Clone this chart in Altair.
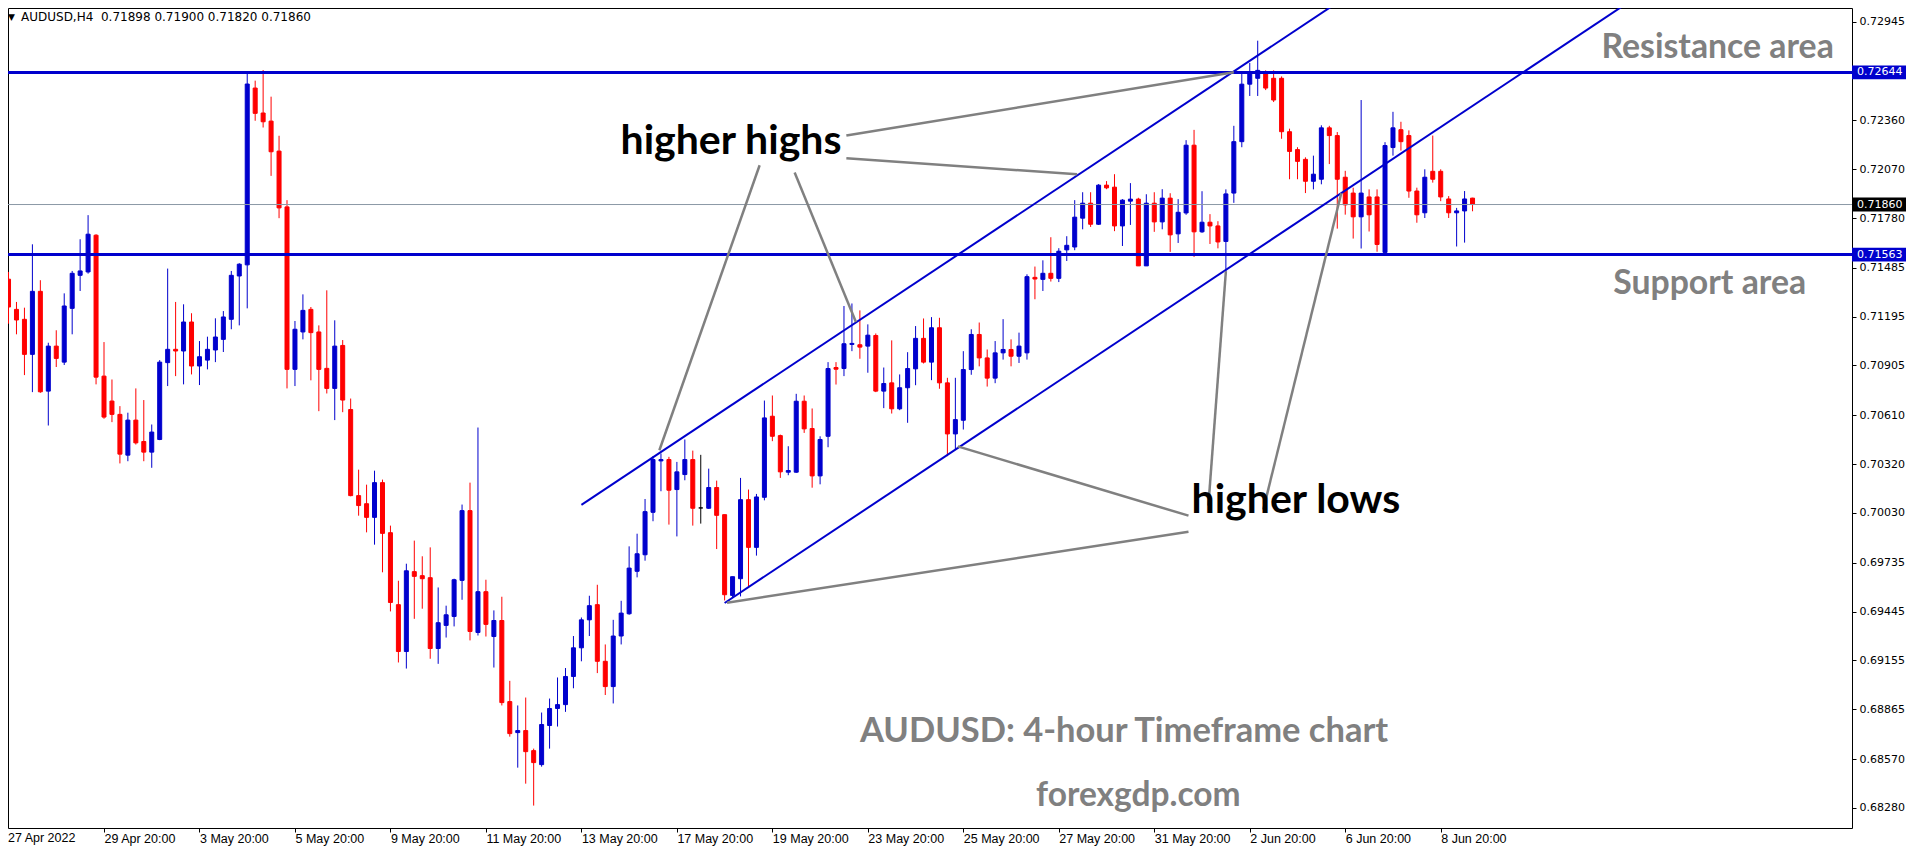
import altair as alt
import pandas as pd

# ---------------- data (AUDUSD H4 candles) ----------------
opens = [0.71417, 0.71238, 0.71179, 0.70971, 0.71345, 0.70753, 0.71020, 0.70925, 0.71244, 0.71440,
         0.71460, 0.71678, 0.70842, 0.70694, 0.70615, 0.70373, 0.70581, 0.70454, 0.70391, 0.70466,
         0.70922, 0.71001, 0.70991, 0.71163, 0.70902, 0.70937, 0.70997, 0.71060, 0.71179, 0.71436,
         0.71502, 0.72551, 0.72403, 0.72355, 0.72177, 0.71846, 0.70882, 0.71104, 0.71238, 0.71104,
         0.70888, 0.70769, 0.71024, 0.70644, 0.70133, 0.70085, 0.70004, 0.70210, 0.69913, 0.69486,
         0.69208, 0.69682, 0.69658, 0.69646, 0.69226, 0.69363, 0.69416, 0.69630, 0.70044, 0.69321,
         0.69563, 0.69297, 0.69392, 0.68911, 0.68727, 0.68739, 0.68620, 0.68537, 0.68769, 0.68870,
         0.68893, 0.69060, 0.69230, 0.69396, 0.69486, 0.69150, 0.69000, 0.69300, 0.69432, 0.69684,
         0.69782, 0.70034, 0.70339, 0.70347, 0.70169, 0.70258, 0.70347, 0.70060, 0.70058, 0.70181,
         0.70020, 0.69541, 0.69640, 0.70109, 0.69826, 0.70123, 0.70604, 0.70489, 0.70272, 0.70272,
         0.70693, 0.70531, 0.70250, 0.70485, 0.70893, 0.70887, 0.71030, 0.71028, 0.71020, 0.71083,
         0.70753, 0.70802, 0.70648, 0.70773, 0.70885, 0.71066, 0.70925, 0.71129, 0.70802, 0.70499,
         0.70580, 0.70881, 0.71089, 0.70950, 0.70830, 0.70980, 0.71000, 0.70960, 0.70980, 0.71428,
         0.71416, 0.71452, 0.71422, 0.71591, 0.71608, 0.71779, 0.71868, 0.71743, 0.71975, 0.71963,
         0.71733, 0.71880, 0.71892, 0.71496, 0.71868, 0.71757, 0.71898, 0.71686, 0.71810, 0.72212,
         0.71698, 0.71755, 0.71733, 0.71641, 0.71928, 0.72233, 0.72574, 0.72609, 0.72644, 0.72609,
         0.72609, 0.72292, 0.72186, 0.72128, 0.71998, 0.72010, 0.72315, 0.72269, 0.72022, 0.71928,
         0.71787, 0.71905, 0.71905, 0.71576, 0.72198, 0.72304, 0.72269, 0.71940, 0.71811, 0.72057,
         0.72057, 0.71893, 0.71811, 0.71822, 0.71898]

highs = [0.71460, 0.71282, 0.71248, 0.71624, 0.71411, 0.71040, 0.71114, 0.71333, 0.71466, 0.71654,
         0.71797, 0.71684, 0.71044, 0.70822, 0.70664, 0.70625, 0.70769, 0.70700, 0.70555, 0.70937,
         0.71480, 0.71282, 0.71268, 0.71215, 0.71050, 0.71076, 0.71185, 0.71228, 0.71466, 0.71512,
         0.72640, 0.72595, 0.72658, 0.72500, 0.72268, 0.71886, 0.71169, 0.71327, 0.71252, 0.71143,
         0.71351, 0.71173, 0.71056, 0.70709, 0.70287, 0.70198, 0.70281, 0.70228, 0.69955, 0.69628,
         0.69729, 0.69866, 0.69773, 0.69826, 0.69588, 0.69480, 0.69640, 0.70080, 0.70210, 0.70537,
         0.69634, 0.69452, 0.69533, 0.69034, 0.68888, 0.68935, 0.68632, 0.68846, 0.68929, 0.69054,
         0.69110, 0.69300, 0.69410, 0.69539, 0.69604, 0.69250, 0.69396, 0.69509, 0.69832, 0.69907,
         0.70113, 0.70367, 0.70383, 0.70363, 0.70333, 0.70466, 0.70400, 0.70375, 0.70293, 0.70222,
         0.70020, 0.69652, 0.70238, 0.70169, 0.70143, 0.70697, 0.70727, 0.70495, 0.70426, 0.70737,
         0.70727, 0.70650, 0.70485, 0.70925, 0.70925, 0.71258, 0.71273, 0.71232, 0.71149, 0.71095,
         0.70893, 0.71054, 0.70852, 0.70984, 0.71139, 0.71184, 0.71192, 0.71188, 0.70832, 0.70832,
         0.70990, 0.71120, 0.71160, 0.71000, 0.71050, 0.71180, 0.71060, 0.71100, 0.71446, 0.71492,
         0.71529, 0.71666, 0.71601, 0.71672, 0.71886, 0.71933, 0.71933, 0.71981, 0.71999, 0.72040,
         0.71892, 0.71987, 0.71900, 0.71921, 0.71933, 0.71951, 0.71927, 0.71892, 0.72242, 0.72303,
         0.71939, 0.71803, 0.71761, 0.71950, 0.72327, 0.72644, 0.72700, 0.72832, 0.72656, 0.72656,
         0.72620, 0.72310, 0.72200, 0.72140, 0.72150, 0.72330, 0.72327, 0.72290, 0.72060, 0.71960,
         0.72480, 0.71950, 0.71950, 0.72230, 0.72410, 0.72351, 0.72300, 0.71960, 0.72069, 0.72269,
         0.72069, 0.71910, 0.71840, 0.71940, 0.71900]

lows = [0.71153, 0.71090, 0.70848, 0.70747, 0.70743, 0.70549, 0.70896, 0.70908, 0.71090, 0.71347,
        0.71450, 0.70793, 0.70589, 0.70569, 0.70324, 0.70337, 0.70436, 0.70337, 0.70298, 0.70462,
        0.70783, 0.70842, 0.70793, 0.70852, 0.70789, 0.70882, 0.70925, 0.70985, 0.71120, 0.71143,
        0.71244, 0.72357, 0.72317, 0.72030, 0.71779, 0.70769, 0.70783, 0.71060, 0.70817, 0.70634,
        0.70739, 0.70581, 0.70628, 0.70129, 0.70014, 0.69915, 0.69842, 0.69678, 0.69446, 0.69143,
        0.69107, 0.69402, 0.69462, 0.69165, 0.69135, 0.69291, 0.69357, 0.69515, 0.69274, 0.69303,
        0.69297, 0.69113, 0.68888, 0.68703, 0.68519, 0.68424, 0.68294, 0.68525, 0.68632, 0.68763,
        0.68850, 0.68990, 0.69150, 0.69300, 0.69080, 0.68950, 0.68900, 0.69250, 0.69426, 0.69648,
        0.69747, 0.69981, 0.70159, 0.69961, 0.69891, 0.70224, 0.69955, 0.69967, 0.70054, 0.69816,
        0.69511, 0.69531, 0.69535, 0.69594, 0.69777, 0.70105, 0.70456, 0.70238, 0.70254, 0.70268,
        0.70505, 0.70180, 0.70200, 0.70420, 0.70792, 0.70842, 0.70990, 0.70945, 0.70862, 0.70747,
        0.70652, 0.70620, 0.70640, 0.70565, 0.70788, 0.70917, 0.70818, 0.70767, 0.70367, 0.70406,
        0.70525, 0.70850, 0.70900, 0.70780, 0.70800, 0.70940, 0.70900, 0.70920, 0.70940, 0.71298,
        0.71347, 0.71403, 0.71400, 0.71525, 0.71589, 0.71713, 0.71727, 0.71739, 0.71951, 0.71702,
        0.71614, 0.71739, 0.71496, 0.71496, 0.71698, 0.71713, 0.71579, 0.71632, 0.71799, 0.71549,
        0.71692, 0.71626, 0.71600, 0.71450, 0.71870, 0.72200, 0.72504, 0.72504, 0.72539, 0.72468,
        0.72250, 0.72010, 0.72010, 0.71928, 0.71950, 0.71980, 0.72100, 0.71717, 0.71800, 0.71658,
        0.71599, 0.71700, 0.71580, 0.71560, 0.72150, 0.72180, 0.71900, 0.71752, 0.71780, 0.71990,
        0.71880, 0.71780, 0.71611, 0.71634, 0.71820]

closes = [0.71252, 0.71175, 0.70971, 0.71345, 0.70749, 0.71020, 0.70947, 0.71258, 0.71452, 0.71466,
          0.71684, 0.70836, 0.70599, 0.70615, 0.70379, 0.70581, 0.70446, 0.70391, 0.70510, 0.70925,
          0.71001, 0.70991, 0.71163, 0.70902, 0.70957, 0.71001, 0.71074, 0.71193, 0.71440, 0.71506,
          0.72575, 0.72401, 0.72351, 0.72173, 0.71840, 0.70882, 0.71120, 0.71232, 0.71100, 0.70882,
          0.70769, 0.71020, 0.70700, 0.70133, 0.70074, 0.70004, 0.70210, 0.69909, 0.69499, 0.69208,
          0.69687, 0.69654, 0.69640, 0.69226, 0.69379, 0.69426, 0.69634, 0.70044, 0.69327, 0.69563,
          0.69369, 0.69392, 0.68905, 0.68721, 0.68739, 0.68614, 0.68549, 0.68775, 0.68870, 0.68893,
          0.69060, 0.69230, 0.69396, 0.69480, 0.69150, 0.69000, 0.69300, 0.69436, 0.69703, 0.69788,
          0.70038, 0.70347, 0.70347, 0.70165, 0.70274, 0.70347, 0.70058, 0.70060, 0.70181, 0.70016,
          0.69545, 0.69652, 0.70109, 0.69826, 0.70125, 0.70594, 0.70485, 0.70274, 0.70282, 0.70693,
          0.70529, 0.70250, 0.70466, 0.70887, 0.70883, 0.71034, 0.71036, 0.71014, 0.71085, 0.70753,
          0.70798, 0.70648, 0.70773, 0.70887, 0.71066, 0.70925, 0.71129, 0.70802, 0.70499, 0.70584,
          0.70881, 0.71089, 0.70950, 0.70830, 0.70980, 0.71000, 0.70960, 0.71020, 0.71432, 0.71418,
          0.71452, 0.71422, 0.71583, 0.71618, 0.71785, 0.71868, 0.71743, 0.71975, 0.71959, 0.71733,
          0.71886, 0.71892, 0.71496, 0.71868, 0.71757, 0.71898, 0.71680, 0.71814, 0.72212, 0.71698,
          0.71755, 0.71733, 0.71638, 0.71923, 0.72233, 0.72574, 0.72644, 0.72656, 0.72551, 0.72480,
          0.72292, 0.72175, 0.72116, 0.71998, 0.72040, 0.72315, 0.72269, 0.72010, 0.71858, 0.71787,
          0.71928, 0.71799, 0.71623, 0.72210, 0.72315, 0.72233, 0.71940, 0.71799, 0.72022, 0.72010,
          0.71905, 0.71811, 0.71822, 0.71893, 0.71860]

x_tick_bars = [0, 12, 24, 36, 48, 60, 72, 84, 96, 108, 120, 132, 144, 156, 168, 180]
x_tick_labels = ["27 Apr 2022", "29 Apr 20:00", "3 May 20:00", "5 May 20:00", "9 May 20:00",
                 "11 May 20:00", "13 May 20:00", "17 May 20:00", "19 May 20:00", "23 May 20:00",
                 "25 May 20:00", "27 May 20:00", "31 May 20:00", "2 Jun 20:00", "6 Jun 20:00",
                 "8 Jun 20:00"]

price_ticks = [0.72945, 0.72360, 0.72070, 0.71780, 0.71485, 0.71195, 0.70905, 0.70610,
               0.70320, 0.70030, 0.69735, 0.69445, 0.69155, 0.68865, 0.68570, 0.68280]

level_names = ["resistance", "support"]
level_prices = [0.72644, 0.71563]
last_price = 0.71860
header = "AUDUSD,H4\u00a0 0.71898 0.71900 0.71820 0.71860"

# channel lines (bar index, price)
channel_x1 = [72, 90]
channel_y1 = [0.70078, 0.69496]
channel_x2 = [170, 205]
channel_y2 = [0.73152, 0.73104]

# grey pointer lines from the labels (bar index, price)
ptr_x1 = [105.3, 105.3, 94.4, 98.8, 148.3, 148.3, 150.8, 157.7]
ptr_y1 = [0.72269, 0.72135, 0.72093, 0.72050, 0.70014, 0.69919, 0.70074, 0.70050]
ptr_x2 = [154.0, 134.3, 81.8, 106.5, 119.3, 90.3, 153.0, 167.5]
ptr_y2 = [0.72645, 0.72039, 0.70402, 0.71163, 0.70425, 0.69498, 0.71464, 0.71927]

label_text = ["higher highs", "higher lows"]
label_x = [90.8, 161.8]
label_y = [0.72160, 0.70030]

note_text = ["Resistance area", "Support area", "AUDUSD: 4-hour Timeframe chart", "forexgdp.com"]
note_x = [214.8, 213.8, 140.2, 142.0]
note_y = [0.72729, 0.71327, 0.68673, 0.68293]
note_size = [33.8, 33.8, 34.5, 33.5]

# ---------------- tables ----------------
def direction(o, c):
    if c > o:
        return "up"
    if c < o:
        return "down"
    return "flat"

candles = pd.DataFrame({
    "i": list(range(len(opens))),
    "o": opens, "h": highs, "l": lows, "c": closes,
})
candles["d"] = [direction(o, c) for o, c in zip(opens, closes)]

levels = pd.DataFrame({"name": level_names, "p": level_prices})
channel = pd.DataFrame({"x1": channel_x1, "y1": channel_y1, "x2": channel_x2, "y2": channel_y2})
pointers = pd.DataFrame({"x1": ptr_x1, "y1": ptr_y1, "x2": ptr_x2, "y2": ptr_y2})
labels = pd.DataFrame({"t": label_text, "x": label_x, "y": label_y})
notes = pd.DataFrame({"t": note_text, "x": note_x, "y": note_y, "fs": note_size})
tags = pd.DataFrame({
    "p": [level_prices[0], last_price, level_prices[1]],
    "bg": ["#0000CD", "#000000", "#0000CD"],
})
tags["lab"] = tags["p"].map(lambda v: f"{v:.5f}")
tags["top"] = tags["p"] + 0.00041
tags["bot"] = tags["p"] - 0.00041

# ---------------- scales / axes ----------------
W, H = 1844, 820
xs = alt.Scale(domain=[0.5625, 231.0625], nice=False, zero=False)
ys = alt.Scale(domain=[0.68161, 0.73026], nice=False, zero=False)
cs = alt.Scale(domain=["up", "down", "flat"], range=["#0000CD", "#FF0000", "#000000"])

label_js = "[" + ",".join(f"'{t}'" for t in x_tick_labels) + "][round(datum.value/12)]"
x_axis = alt.Axis(values=x_tick_bars[1:], labelExpr=label_js, labelAlign="left",
                  labelBaseline="top", labelPadding=0, tickSize=4, tickColor="black",
                  domain=False, labelFont="Liberation Sans", labelFontSize=12.5,
                  labelColor="black", grid=False, title=None, labelOverlap=False,
                  labelFlush=False, labelBound=False)
y_axis = alt.Axis(orient="right", values=price_ticks, format=".5f", tickSize=4,
                  tickColor="black", labelPadding=3, labelFont="DejaVu Sans",
                  labelFontSize=11, labelColor="black", grid=False, title=None,
                  domain=False, labelOverlap=False, labelFlush=False, labelBound=False)

X = lambda f: alt.X(f, type="quantitative", scale=xs, axis=x_axis)
Y = lambda f: alt.Y(f, type="quantitative", scale=ys, axis=y_axis)

wicks = alt.Chart(candles).mark_rule(strokeWidth=1, clip=True).encode(
    x=X("i"), y=Y("l"), y2="h:Q",
    color=alt.Color("d:N", scale=cs, legend=None))
bodies = alt.Chart(candles).mark_bar(width=4, strokeWidth=1, clip=True).encode(
    x=X("i"), y=Y("o"), y2="c:Q",
    fill=alt.Fill("d:N", scale=cs, legend=None),
    stroke=alt.Stroke("d:N", scale=cs, legend=None))

level_lines = alt.Chart(levels).mark_rule(color="#0000CD", strokeWidth=3).encode(y=Y("p"))
last_line = alt.Chart(pd.DataFrame({"p": [last_price]})).mark_rule(
    color="#8C99A6", strokeWidth=1).encode(y=Y("p"))

channel_lines = alt.Chart(channel).mark_rule(color="#0000CD", strokeWidth=2, clip=True).encode(
    x=X("x1"), y=Y("y1"), x2="x2:Q", y2="y2:Q")
pointer_lines = alt.Chart(pointers).mark_rule(color="#808080", strokeWidth=2.5).encode(
    x=X("x1"), y=Y("y1"), x2="x2:Q", y2="y2:Q")

label_marks = alt.Chart(labels).mark_text(font="Lato", fontWeight="bold", fontSize=41,
                                          color="#000000", align="center",
                                          baseline="alphabetic").encode(
    x=X("x"), y=Y("y"), text="t:N")
note_marks = alt.Chart(notes).mark_text(font="Lato", fontWeight="bold", color="#808080",
                                        align="center", baseline="alphabetic").encode(
    x=X("x"), y=Y("y"), text="t:N", size=alt.Size("fs:Q", scale=None))

tag_boxes = alt.Chart(tags).mark_rect().encode(
    x=alt.value(W), x2=alt.value(W + 54), y=Y("top"), y2="bot:Q",
    color=alt.Color("bg:N", scale=None))
tag_text = alt.Chart(tags).mark_text(align="left", baseline="middle", font="DejaVu Sans",
                                     fontSize=11, color="white").encode(
    x=alt.value(W + 5), y=Y("p"), text="lab:N")

header_df = pd.DataFrame({"t": [header], "arrow": ["\u25bc"], "first": [x_tick_labels[0]]})
header_text = alt.Chart(header_df).mark_text(align="left", baseline="middle", font="DejaVu Sans",
                                             fontSize=12, color="black").encode(
    x=alt.value(13), y=alt.value(9), text="t:N")
header_arrow = alt.Chart(header_df).mark_text(align="left", baseline="middle",
                                              font="DejaVu Sans", fontSize=9,
                                              color="black").encode(
    x=alt.value(0), y=alt.value(9), text="arrow:N")
first_label = alt.Chart(header_df).mark_text(align="left", baseline="top",
                                             font="Liberation Sans", fontSize=12.5,
                                             color="black").encode(
    x=alt.value(0), y=alt.value(H + 4), text="first:N")

chart = alt.layer(
    wicks, bodies, level_lines, last_line, channel_lines, pointer_lines,
    label_marks, note_marks, tag_boxes, tag_text, header_text, header_arrow, first_label,
).properties(
    width=W, height=H,
    autosize=alt.AutoSizeParams(type="none"),
    padding={"left": 0, "top": 0, "right": 56, "bottom": 22},
    background="white",
).configure_view(stroke="black", strokeWidth=1)

chart.save("out.html", embed_options={"renderer": "svg", "actions": False})
